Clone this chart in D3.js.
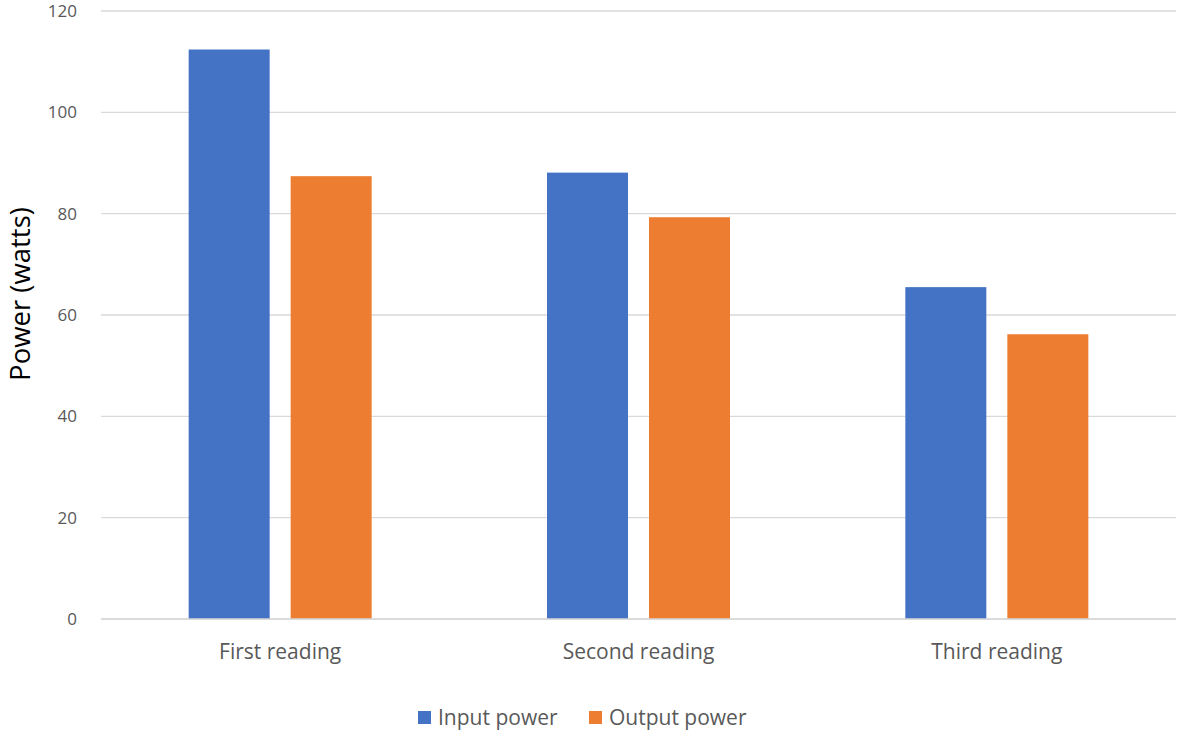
<!DOCTYPE html>
<html>
<head>
<meta charset="utf-8">
<script src="https://cdn.jsdelivr.net/npm/d3@7"></script>
<style>
  html, body { margin: 0; padding: 0; background: #fff; }
  svg text { font-family: "Open Sans", "Noto Sans", sans-serif; fill: #595959; }
</style>
</head>
<body>
<svg id="chart" width="1181" height="733"></svg>
<script>
const categories = ["First reading", "Second reading", "Third reading"];
const seriesNames = ["Input power", "Output power"];
const inputPower = [112.4, 88.1, 65.5];
const outputPower = [87.4, 79.3, 56.2];
const yTicks = [0, 20, 40, 60, 80, 100, 120];
const colors = ["#4472c4", "#ed7d31"];

const seriesValues = [inputPower, outputPower];
const svg = d3.select("#chart");

const plotLeft = 101, plotRight = 1176, plotTop = 11, plotBottom = 619;

const y = d3.scaleLinear().domain([0, 120]).range([plotBottom, plotTop]);
const x0 = d3.scaleBand().domain(categories).range([plotLeft, plotRight])
  .paddingInner(0.4893).paddingOuter(0.24465);
const x1 = d3.scaleBand().domain(seriesNames).range([0, x0.bandwidth()])
  .paddingInner(0.206).paddingOuter(0);

// gridlines
svg.append("g").selectAll("line").data(yTicks).join("line")
  .attr("x1", plotLeft).attr("x2", plotRight)
  .attr("y1", d => y(d)).attr("y2", d => y(d))
  .attr("stroke", "#d9d9d9").attr("stroke-width", 1.3);

// y tick labels
svg.append("g").selectAll("text").data(yTicks).join("text")
  .attr("x", 77).attr("y", d => y(d))
  .attr("dy", "0.35em")
  .attr("text-anchor", "end")
  .style("font-size", "17px")
  .text(d => d);

// bars
const groups = svg.append("g").selectAll("g").data(categories).join("g")
  .attr("transform", c => `translate(${x0(c)},0)`);
groups.selectAll("rect")
  .data((c, i) => seriesNames.map((s, j) => ({ s, j, v: seriesValues[j][i] })))
  .join("rect")
  .attr("x", d => x1(d.s))
  .attr("width", x1.bandwidth())
  .attr("y", d => y(d.v))
  .attr("height", d => y(0) - y(d.v))
  .attr("fill", d => colors[d.j]);

// redraw baseline over bars
svg.append("line")
  .attr("x1", plotLeft).attr("x2", plotRight)
  .attr("y1", y(0)).attr("y2", y(0))
  .attr("stroke", "#d9d9d9").attr("stroke-width", 1.3);

// category labels
svg.append("g").selectAll("text").data(categories).join("text")
  .attr("x", c => x0(c) + x0.bandwidth() / 2)
  .attr("y", 659)
  .attr("text-anchor", "middle")
  .style("font-size", "21px")
  .text(c => c);

// y axis title
svg.append("text")
  .attr("transform", "translate(30,294) rotate(-90)")
  .attr("text-anchor", "middle")
  .style("font-size", "27.5px")
  .style("fill", "#000")
  .text("Power (watts)");

// legend
const legendX = [418, 589];
const lg = svg.append("g").selectAll("g").data(seriesNames).join("g")
  .attr("transform", (d, i) => `translate(${legendX[i]},711)`);
lg.append("rect").attr("width", 13).attr("height", 13)
  .attr("fill", (d, i) => colors[i]);
lg.append("text").attr("x", 20).attr("y", 6.5).attr("dy", "0.35em")
  .style("font-size", "21px")
  .text(d => d);
</script>
</body>
</html>
